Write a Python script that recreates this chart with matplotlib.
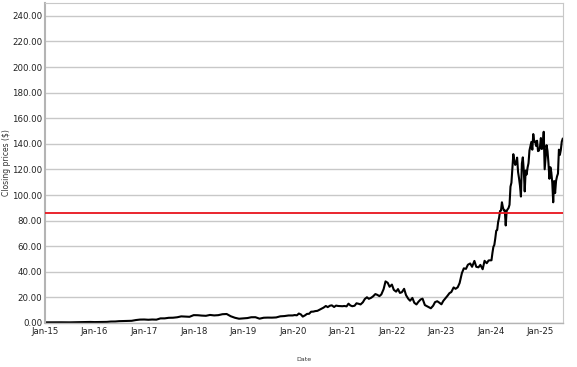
import matplotlib
matplotlib.use("Agg")
import matplotlib.pyplot as plt
import matplotlib.dates as mdates
import pandas as pd
import numpy as np

# Monthly closes 2015-2019
monthly_2015_2019 = [
    0.50, 0.53, 0.56, 0.52, 0.55, 0.50, 0.50, 0.55, 0.60, 0.70, 0.80, 0.82,
    0.72, 0.77, 0.89, 0.87, 1.13, 1.17, 1.43, 1.53, 1.71, 1.72, 2.30, 2.67,
    2.73, 2.53, 2.72, 2.61, 3.60, 3.61, 4.06, 4.12, 4.47, 5.17, 5.00, 4.84,
    6.14, 6.06, 5.79, 5.62, 6.29, 5.92, 6.12, 6.86, 7.03, 5.27, 4.08, 3.34,
    3.59, 3.86, 4.49, 4.52, 3.38, 4.11, 4.22, 4.18, 4.35, 5.21, 5.42, 5.88,
]
# Semi-monthly closes 2020-2023
semimonthly_2020_2023 = [
    5.9, 6.2, 6.0, 7.4, 6.7, 5.0, 6.0, 7.1, 7.2, 8.8, 8.9, 9.3,
    9.5, 10.3, 11.2, 12.0, 13.3, 12.4, 13.5, 13.8, 12.5, 13.6, 13.3, 13.2,
    13.1, 13.3, 13.0, 15.1, 13.7, 13.1, 13.5, 15.4, 15.0, 14.5, 16.2, 18.7,
    20.1, 18.9, 19.7, 20.8, 22.6, 22.0, 21.0, 22.3, 26.5, 32.5, 31.4, 28.3,
    30.0, 25.9, 24.5, 26.5, 23.5, 24.0, 26.7, 21.8, 19.0, 17.4, 19.6, 15.8,
    14.5, 16.5, 18.4, 19.0, 14.0, 13.2, 12.2, 11.5, 13.5, 16.3, 17.0, 16.0,
    14.6, 17.3, 19.5, 21.3, 23.3, 24.2, 27.8, 26.7, 27.9, 31.2, 39.0, 42.7,
    42.3, 45.5, 46.5, 43.9, 48.5, 43.9, 43.5, 45.4, 42.0, 48.6, 46.7, 48.9,
]
# Weekly closes 2024-01-05 .. 2025-06-13
weekly_2024_2025 = [
    49.0, 54.7, 59.5, 61.0,
    66.1, 72.1, 72.6, 78.9,
    82.2, 87.5, 87.8, 94.3, 90.4,
    88.0, 88.1, 76.2, 87.7,
    88.8, 89.9, 92.4, 106.5, 109.6,
    120.9, 131.9, 126.6, 123.5,
    125.8, 129.2, 117.9, 113.1,
    107.3, 98.8, 124.6, 129.4, 119.4,
    102.8, 119.1, 116.0, 121.4,
    124.9, 134.8, 138.0, 141.5,
    135.4, 147.6, 141.9, 141.9, 138.3,
    142.4, 134.3, 134.7, 137.0,
    144.5, 135.9, 137.7, 149.4, 120.1,
    129.8, 138.9, 134.4, 124.9,
    112.7, 121.7, 117.7, 109.7,
    94.3, 110.9, 101.5, 111.0,
    114.5, 116.7, 135.4, 131.3, 135.1,
    141.7, 143.9,
]
reference_level = 86.0

d1 = pd.date_range("2015-01-01", periods=len(monthly_2015_2019), freq="MS")
d2 = pd.date_range("2020-01-01", periods=len(semimonthly_2020_2023), freq="SMS")
d3 = pd.date_range("2024-01-05", periods=len(weekly_2024_2025), freq="W-FRI")
dates = d1.append(d2).append(d3)
values = monthly_2015_2019 + semimonthly_2020_2023 + weekly_2024_2025

fig = plt.figure(figsize=(5.77, 3.67), dpi=100)
ax = fig.add_axes([0.078, 0.1199, 0.8977, 0.8719])

ax.plot(dates, values, color="black", linewidth=1.5, solid_joinstyle="round")
ax.axhline(reference_level, color="#e8141c", linewidth=1.3, zorder=3)

ax.set_ylim(0, 250)
ax.set_xlim(pd.Timestamp("2015-01-01"), pd.Timestamp("2025-06-15"))
ax.set_yticks(np.arange(0, 241, 20))
ax.yaxis.set_major_formatter(matplotlib.ticker.FormatStrFormatter("%.2f"))
ax.xaxis.set_major_locator(mdates.YearLocator())
ax.xaxis.set_major_formatter(mdates.DateFormatter("%b-%y"))

ax.grid(axis="y", color="#c8c8c8", linewidth=1.0)
ax.set_axisbelow(True)
for s in ["top", "right"]:
    ax.spines[s].set_color("#c8c8c8")
    ax.spines[s].set_linewidth(0.8)
ax.spines["left"].set_color("#b4b4b4")
ax.spines["left"].set_linewidth(1.5)
ax.spines["bottom"].set_color("#b4b4b4")
ax.spines["bottom"].set_linewidth(1.0)

ax.tick_params(axis="both", length=0, labelsize=6.2, colors="#222222")
ax.tick_params(axis="y", pad=2)
ax.tick_params(axis="x", pad=3)

ax.set_ylabel("Closing prices ($)", fontsize=5.5, color="#333333", labelpad=1)
ax.set_xlabel("Date", fontsize=4.5, color="#333333", labelpad=15)

fig.savefig("out.png", dpi=100)
